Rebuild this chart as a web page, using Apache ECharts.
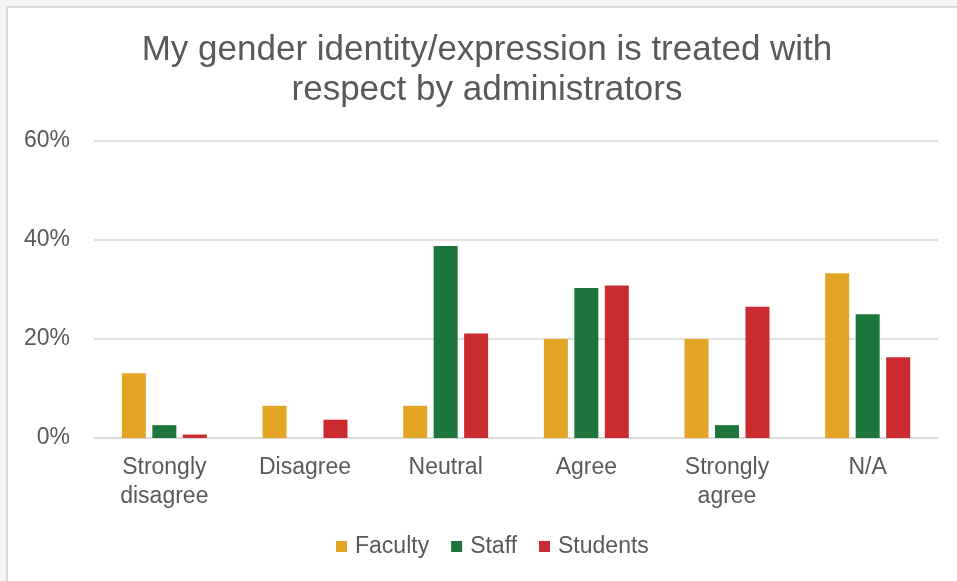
<!DOCTYPE html>
<html>
<head>
<meta charset="utf-8">
<script src="https://cdn.jsdelivr.net/npm/echarts@6/dist/echarts.min.js"></script>
<style>
  html, body { margin: 0; padding: 0; background: #f4f4f4; }
  #chart { width: 957px; height: 581px; }
</style>
</head>
<body>
<div id="chart"></div>
<script>
const titleText = 'My gender identity/expression is treated with\nrespect by administrators';
const categories = ['Strongly disagree', 'Disagree', 'Neutral', 'Agree', 'Strongly agree', 'N/A'];
const seriesNames = ['Faculty', 'Staff', 'Students'];
const faculty  = [13.1, 6.5, 6.5, 20.0, 20.0, 33.3];
const staff    = [2.6, 0, 38.8, 30.3, 2.6, 25.0];
const students = [0.7, 3.7, 21.1, 30.8, 26.5, 16.3];
const yTicks = { min: 0, max: 60, interval: 20 };
const colors = ['#E2A526', '#1C763C', '#C92B30'];

const FONT = "'Liberation Sans', Arial, sans-serif";
const chart = echarts.init(document.getElementById('chart'), null, { renderer: 'canvas' });
const values = [faculty, staff, students];

chart.setOption({
  backgroundColor: '#f4f4f4',
  animation: false,
  graphic: [{
    type: 'rect',
    z: -10,
    silent: true,
    shape: { x: 7, y: 7, width: 980, height: 600 },
    style: { fill: '#ffffff', stroke: '#d9d9d9', lineWidth: 2 }
  }],
  title: {
    text: titleText,
    left: 482,
    top: 25,
    textAlign: 'center',
    textStyle: { fontFamily: FONT, fontSize: 35, fontWeight: 'normal', color: '#595959', lineHeight: 40 }
  },
  legend: {
    data: seriesNames,
    left: 331,
    top: 530,
    itemWidth: 11,
    itemHeight: 11,
    itemGap: 22,
    icon: 'rect',
    textStyle: { fontFamily: FONT, fontSize: 23, color: '#595959', padding: [0, 0, 0, 3] }
  },
  grid: { left: 94, right: 19, top: 141, bottom: 143, containLabel: false },
  xAxis: {
    type: 'category',
    data: categories,
    axisLine: { show: true, lineStyle: { color: '#d9d9d9', width: 1.5 } },
    axisTick: { show: false },
    axisLabel: {
      interval: 0,
      margin: 15,
      fontFamily: FONT,
      fontSize: 23,
      lineHeight: 29,
      color: '#595959',
      formatter: v => v.replace('Strongly ', 'Strongly\n')
    }
  },
  yAxis: {
    type: 'value',
    min: yTicks.min,
    max: yTicks.max,
    interval: yTicks.interval,
    axisLine: { show: false },
    axisTick: { show: false },
    splitLine: { lineStyle: { color: '#d9d9d9', width: 1.5 } },
    axisLabel: {
      margin: 24,
      fontFamily: FONT,
      fontSize: 23,
      color: '#595959',
      formatter: '{value}%'
    }
  },
  series: seriesNames.map((name, i) => ({
    name,
    type: 'bar',
    data: values[i],
    barWidth: 24,
    barGap: '27%',
    itemStyle: { color: colors[i] }
  }))
});
</script>
</body>
</html>
